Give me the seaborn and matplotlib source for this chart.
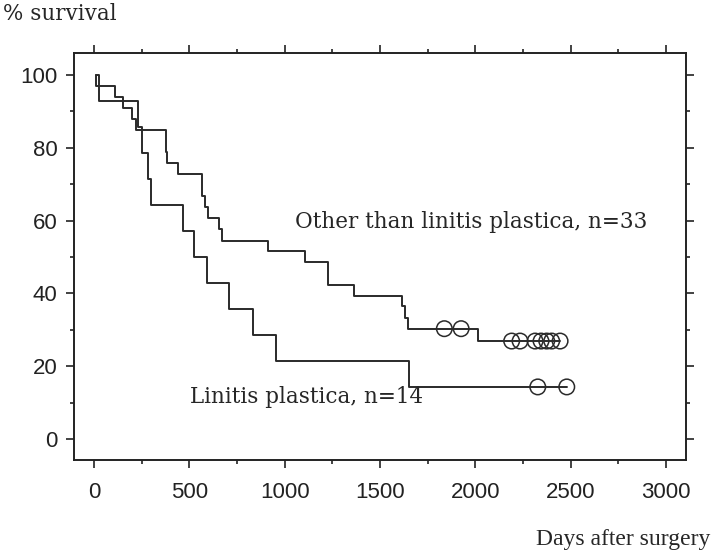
import pandas as pd
import seaborn as sns
import matplotlib.pyplot as plt
from matplotlib import font_manager
from matplotlib.ticker import MultipleLocator

# Kaplan-Meier curves (days, % survival)
other_days = [10, 10, 110, 150, 198, 220, 377, 385, 439, 568, 580, 597, 656, 673,
              911, 1108, 1229, 1365, 1617, 1630, 1645, 2016, 2444]
other_surv = [100, 97.0, 93.9, 90.9, 87.9, 84.8, 78.8, 75.8, 72.7, 66.7, 63.6, 60.6, 57.6, 54.5,
              51.5, 48.5, 42.4, 39.4, 36.4, 33.3, 30.3, 26.9, 26.9]
other_cens_days = [1837, 1925, 2190, 2234, 2313, 2344, 2374, 2400, 2444]
other_cens_surv = [30.3, 30.3, 26.9, 26.9, 26.9, 26.9, 26.9, 26.9, 26.9]

lin_days = [10, 28, 232, 250, 285, 300, 465, 526, 591, 710, 832, 954, 1654, 2479]
lin_surv = [100, 92.9, 85.7, 78.6, 71.4, 64.3, 57.1, 50.0, 42.9, 35.7, 28.6, 21.4, 14.3, 14.3]
lin_cens_days = [2327, 2479]
lin_cens_surv = [14.3, 14.3]

curves = pd.concat([
    pd.DataFrame({'day': other_days, 'surv': other_surv, 'group': 'other'}),
    pd.DataFrame({'day': lin_days, 'surv': lin_surv, 'group': 'linitis'}),
], ignore_index=True)
censored = pd.concat([
    pd.DataFrame({'day': other_cens_days, 'surv': other_cens_surv, 'group': 'other'}),
    pd.DataFrame({'day': lin_cens_days, 'surv': lin_cens_surv, 'group': 'linitis'}),
], ignore_index=True)

sns.set_style('ticks')

# tick numbers in the original are a narrow sans
installed = {f.name for f in font_manager.fontManager.ttflist}
if 'Liberation Sans Narrow' in installed:
    tick_font, tick_size = 'Liberation Sans Narrow', 18
else:
    tick_font, tick_size = 'Liberation Sans', 16
plt.rcParams['font.family'] = [tick_font, 'DejaVu Sans']

fig = plt.figure(figsize=(7.14, 5.53), dpi=100)
ax = fig.add_axes([0.1036, 0.168, 0.8574, 0.736])

line_col = '#2a2a2a'
sns.lineplot(data=curves, x='day', y='surv', hue='group', units='group',
             estimator=None, sort=False, drawstyle='steps-post',
             palette={'other': line_col, 'linitis': line_col},
             linewidth=1.4, legend=False, ax=ax)
sns.scatterplot(data=censored, x='day', y='surv', marker='o', s=125,
                facecolor='none', edgecolor=line_col, linewidth=1.1,
                legend=False, ax=ax)

ax.set_xlim(-105, 3105)
ax.set_ylim(-5.8, 106)
ax.xaxis.set_major_locator(MultipleLocator(500))
ax.xaxis.set_minor_locator(MultipleLocator(250))
ax.yaxis.set_major_locator(MultipleLocator(20))
ax.yaxis.set_minor_locator(MultipleLocator(10))
ax.tick_params(which='both', direction='out', top=True, right=True,
               colors='#222222', width=1.2, labelsize=tick_size)
ax.tick_params(axis='x', which='major', length=6, pad=10)
ax.tick_params(axis='y', which='major', length=6, pad=6)
ax.tick_params(which='minor', length=3)
for s in ax.spines.values():
    s.set_linewidth(1.4)
    s.set_color('#222222')
ax.set_xlabel('')
ax.set_ylabel('')

wide_serif = ['DejaVu Serif']
ax.text(1054, 59.6, 'Other than linitis plastica, n=33', family=wide_serif,
        fontsize=15.5, va='center', ha='left')
ax.text(503, 11.5, 'Linitis plastica, n=14', family=wide_serif,
        fontsize=15.5, va='center', ha='left')
fig.text(3 / 714, 1 - 14 / 553, '% survival', family=wide_serif, fontsize=15.5,
         va='center', ha='left')
fig.text(710 / 714, 1 - 540 / 553, 'Days after surgery',
         family=['Liberation Serif', 'DejaVu Serif'],
         fontsize=17, va='center', ha='right')

fig.savefig('out.png', dpi=100)
